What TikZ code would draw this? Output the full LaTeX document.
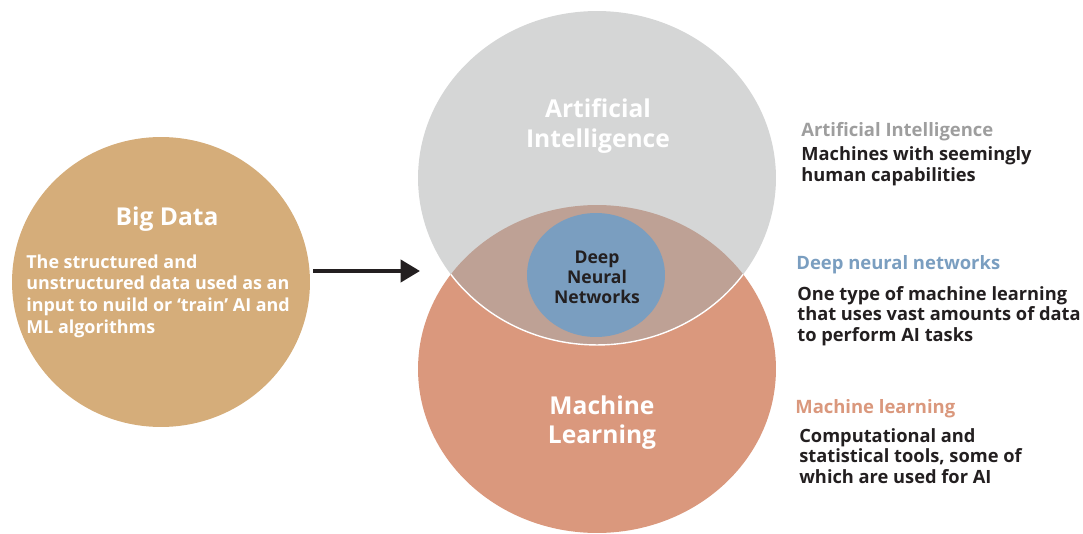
\documentclass[tikz,border=0pt]{standalone}
\usepackage{fontspec}
\setmainfont{Open Sans}
\usetikzlibrary{shapes.geometric, arrows.meta, positioning}
\definecolor{bdtan}{RGB}{213,173,122}
\definecolor{aigrey}{RGB}{213,214,214}
\definecolor{mlsalmon}{RGB}{218,152,125}
\definecolor{lensbrown}{RGB}{190,161,149}
\definecolor{dnnblue}{RGB}{122,158,192}
\definecolor{headgrey}{RGB}{158,158,158}
\definecolor{ink}{RGB}{35,31,32}
\tikzstyle{blob} = [ellipse, inner sep=0pt, draw=none]
\tikzstyle{title} = [font=\bfseries\fontsize{14}{17}\selectfont, text=white, align=center, anchor=base]
\tikzstyle{body} = [font=\bfseries\fontsize{10.2}{12.3}\selectfont, text=white, align=left, anchor=base west, inner sep=0pt]
\tikzstyle{head} = [font=\bfseries\fontsize{10.5}{12}\selectfont, anchor=base west, inner sep=0pt]
\tikzstyle{desc} = [font=\bfseries\fontsize{10.4}{11.5}\selectfont, text=ink, align=left, anchor=base west, inner sep=0pt]
\tikzstyle{arrow} = [-{Triangle[length=11pt,width=12.5pt]}, line width=2.3pt, draw=ink]
\begin{document}
\begin{tikzpicture}[x=0.02cm, y=-0.02cm]
	\useasboundingbox (0,0) rectangle (1083,534);
	% circles
	\node (BD) [blob, fill=bdtan, minimum width=5.96cm, minimum height=5.8cm] at (161,282) {};
	\node (ML) [blob, fill=mlsalmon, minimum width=7.16cm, minimum height=6.56cm] at (597,369) {};
	\node (AI) [blob, fill=aigrey, minimum width=7.16cm, minimum height=6.68cm] at (597,178) {};
	% overlap of AI and ML
	\begin{scope}
		\clip (597,369) ellipse [x radius=3.58cm, y radius=3.28cm];
		\fill [lensbrown] (597,178) ellipse [x radius=3.58cm, y radius=3.34cm];
		\draw [white, line width=0.8pt] (597,178) ellipse [x radius=3.58cm, y radius=3.34cm];
	\end{scope}
	\node (DNN) [blob, fill=dnnblue, minimum width=2.76cm, minimum height=2.48cm] at (596,275) {};
	% arrow
	\coordinate (arrS) at (313,271);
	\coordinate (arrE) at (420,271);
	\draw [arrow] (arrS) -- (arrE);
	% texts in the circles (base = last line)
	\node (BDt) [title] at (167,225) {Big Data};
	\node (BDb) [body] at (26,333) {The structured and\\unstructured data used as an\\input to nuild or ‘train’ AI and\\ML algorithms};
	\node (AIt) [title] at (598,147) {Artificial\\Intelligence};
	\node (MLt) [title, font=\bfseries\fontsize{14}{16}\selectfont] at (602,443) {Machine\\Learning};
	\node (DNNt) [title, text=ink, font=\bfseries\fontsize{10}{11.3}\selectfont] at (597,303) {Deep\\Neural\\Networks};
	% legend on the right
	\node (AIh) [head, text=headgrey] at (801,136) {Artificial Intelligence};
	\node (AId) [desc] at (801,181) {Machines with seemingly\\human capabilities};
	\node (DNNh) [head, text=dnnblue] at (796,269) {Deep neural networks};
	\node (DNNd) [desc] at (797,341) {One type of machine learning\\that uses vast amounts of data\\to perform AI tasks};
	\node (MLh) [head, text=mlsalmon] at (795,413) {Machine learning};
	\node (MLd) [desc] at (799,483) {Computational and\\statistical tools, some of\\which are used for AI};
\end{tikzpicture}
\end{document}
